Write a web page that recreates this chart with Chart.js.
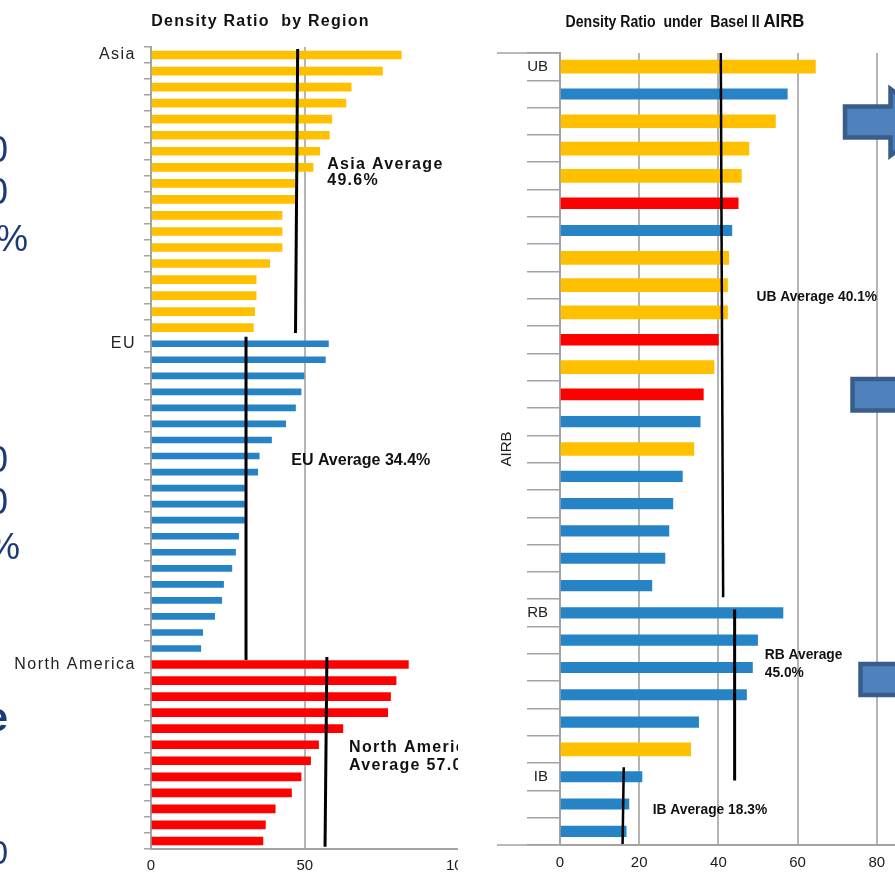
<!DOCTYPE html>
<html>
<head>
<meta charset="utf-8">
<script src="https://cdn.jsdelivr.net/npm/chart.js@4/dist/chart.umd.min.js"></script>
<style>
  html, body { margin:0; padding:0; background:#fff; }
  body { width:895px; height:880px; overflow:hidden; position:relative; font-family:'Liberation Sans', Arial, sans-serif; }
  #leftWrap { position:absolute; left:0; top:0; width:458px; height:880px; overflow:hidden; }
  #rightWrap { position:absolute; left:490px; top:0; width:405px; height:880px; overflow:hidden; }
  .ttl { position:absolute; text-align:center; white-space:pre; line-height:24px; color:#111; }
  .slide { position:absolute; color:#1B3A78; font-family:'Liberation Sans', Arial, sans-serif; line-height:1; white-space:nowrap; }
  #shapes { position:absolute; left:0; top:0; z-index:5; }
</style>
</head>
<body>
<div id="leftWrap"><canvas id="region" width="474" height="880"></canvas></div>
<div id="rightWrap"><canvas id="airb" width="480" height="880"></canvas></div>

<div class="ttl" style="left:0;width:521px;top:9px;font:bold 16px 'Liberation Sans',Arial,sans-serif;line-height:24px;letter-spacing:1.25px;">Density Ratio  by Region</div>
<div class="ttl" style="left:490px;width:390px;top:10px;font:bold 16px 'Liberation Sans',Arial,sans-serif;line-height:24px;transform:scaleX(0.88);transform-origin:195px 12px;">Density Ratio  under  Basel II <span style="font:bold 19px 'Liberation Sans',Arial,sans-serif;">AIRB</span></div>

<!-- fragments of slide text cut by the left edge -->
<div class="slide" style="right:887px;top:132px;font-size:36px;">0</div>
<div class="slide" style="right:887px;top:174px;font-size:36px;">0</div>
<div class="slide" style="right:867px;top:221px;font-size:36px;">%</div>
<div class="slide" style="right:887px;top:442px;font-size:36px;">0</div>
<div class="slide" style="right:887px;top:484px;font-size:36px;">0</div>
<div class="slide" style="right:875px;top:529px;font-size:36px;">%</div>
<div class="slide" style="right:887px;top:697px;font-size:40px;font-weight:bold;">e</div>
<div class="slide" style="right:887px;top:836px;font-size:33px;">0</div>

<svg id="shapes" width="895" height="880">
  <polygon points="845,106.5 890.5,106.5 890.5,89 935,122 890.5,155.5 890.5,137.5 845,137.5" fill="#4F81BD" stroke="#385D8A" stroke-width="4.5"/>
  <rect x="852.5" y="379" width="60" height="31.5" fill="#4F81BD" stroke="#385D8A" stroke-width="4.5"/>
  <rect x="860.5" y="664" width="60" height="31" fill="#4F81BD" stroke="#385D8A" stroke-width="4.5"/>
</svg>

<script>
// ---------------- data: Density Ratio by Region ----------------
const regionNames = ['Asia', 'EU', 'North America'];
const asiaValues = [81.4, 75.3, 65.1, 63.4, 58.8, 58.0, 54.9, 52.7, 46.7, 46.7, 42.6, 42.6, 42.6, 38.6, 34.2, 34.2, 33.7, 33.3];
const euValues = [57.7, 56.7, 49.8, 48.8, 47.0, 43.8, 39.2, 35.2, 34.7, 30.4, 30.4, 30.4, 28.5, 27.5, 26.3, 23.6, 23.0, 20.7, 16.8, 16.2];
const naValues = [83.7, 79.7, 77.9, 77.0, 62.4, 54.5, 51.9, 48.8, 45.7, 40.4, 37.2, 36.4];
const regionTicks = [0, 50, 100];
// average marker lines as drawn (top value, bottom value)
const asiaAvgLine = [47.7, 47.0];
const euAvgLine = [30.9, 30.9];
const naAvgLine = [57.2, 56.6];
const asiaAvgText = ['Asia Average', '49.6%'];
const euAvgText = ['EU Average 34.4%'];
const naAvgText = ['North America', 'Average 57.0%'];

// ---------------- data: Density Ratio under Basel II AIRB ----------------
const bankGroups = ['UB', 'RB', 'IB'];
const ubValues = [64.5, 57.4, 54.4, 47.7, 45.8, 45.0, 43.4, 42.6, 42.3, 42.3, 40.0, 38.9, 36.2, 35.4, 33.8, 30.9, 28.5, 27.5, 26.5, 23.2];
const ubRegion = ['Asia','EU','Asia','Asia','Asia','North America','EU','Asia','Asia','Asia','North America','Asia','North America','EU','Asia','EU','EU','EU','EU','EU'];
const rbValues = [56.3, 49.9, 48.6, 47.1, 35.0, 33.0];
const rbRegion = ['EU','EU','EU','EU','EU','Asia'];
const ibValues = [20.7, 17.4, 16.7];
const ibRegion = ['EU','EU','EU'];
const airbTicks = [0, 20, 40, 60, 80, 100];
const ubAvgLine = [40.6, 41.2];
const rbAvgLine = [44.1, 44.1];
const ibAvgLine = [16.1, 15.8];
const ubAvgText = ['UB Average 40.1%'];
const rbAvgText = ['RB Average', '45.0%'];
const ibAvgText = ['IB Average 18.3%'];
const airbAxisTitle = 'AIRB';

// ---------------- styling ----------------
const COLORS = { 'Asia': '#FFC000', 'EU': '#2683C6', 'North America': '#FF0000' };
const GRID = '#B5B5B5';
const AXIS = '#A3A3A3';
Chart.defaults.font.family = "'Liberation Sans', Arial, sans-serif";
Chart.defaults.color = '#1a1a1a';

function groupLabels(names, sizes) {
  const out = [];
  names.forEach((n, g) => { for (let i = 0; i < sizes[g]; i++) out.push(i === 0 ? n : ''); });
  return out;
}
function avgLine(vals, from, to, width) {
  return { type: 'line', data: [{ x: vals[0], y: from }, { x: vals[1], y: to }], xAxisID: 'x', yAxisID: 'y2',
           borderColor: '#000', borderWidth: width, pointRadius: 0, fill: false, tension: 0, order: 0, clip: false };
}
function annotator(items, font, sx) {
  return {
    id: 'annot',
    afterDatasetsDraw(chart) {
      const ctx = chart.ctx, xs = chart.scales.x, ys = chart.scales.y2;
      items.forEach(a => {
        a.lines.forEach((t, k) => {
          ctx.save();
          ctx.font = font; ctx.fillStyle = '#111'; ctx.textAlign = 'left'; ctx.textBaseline = 'middle';
          try { ctx.letterSpacing = a.spacing || '0px'; } catch (e) {}
          ctx.translate(xs.getPixelForValue(a.x), ys.getPixelForValue(a.y + k * a.step));
          ctx.scale(sx, 1);
          ctx.fillText(t, 0, 0);
          ctx.restore();
        });
      });
    }
  };
}
const hiddenLinear = (n) => ({ type: 'linear', display: false, offset: false, grid: { offset: false }, min: -0.5, max: n - 0.5, reverse: true });

// ---------------- left chart ----------------
const regionSizes = [asiaValues.length, euValues.length, naValues.length];
const regionLabels = groupLabels(regionNames, regionSizes);
const nReg = regionLabels.length;
const regionSeries = [asiaValues, euValues, naValues];
const regionThickness = [8, 6, 8];
const regionBars = regionNames.map((name, g) => {
  const start = regionSizes.slice(0, g).reduce((a, b) => a + b, 0);
  const data = regionLabels.map((_, i) => (i >= start && i < start + regionSizes[g]) ? regionSeries[g][i - start] : null);
  return { type: 'bar', label: name, data, backgroundColor: COLORS[name], barThickness: regionThickness[g],
           grouped: false, xAxisID: 'x', yAxisID: 'y', order: 1 };
});
const s1 = regionSizes[0], s2 = regionSizes[0] + regionSizes[1];

const regionChart = new Chart(document.getElementById('region'), {
  type: 'bar',
  data: {
    labels: regionLabels,
    datasets: [
      avgLine(asiaAvgLine, -0.38, s1 - 1 + 0.33, 3),
      avgLine(euAvgLine, s1 - 0.44, s2 - 1 + 0.72, 3),
      avgLine(naAvgLine, s2 - 0.47, nReg - 1 + 0.36, 3),
      ...regionBars
    ]
  },
  options: {
    indexAxis: 'y', responsive: false, animation: false,
    layout: { padding: { top: 47, bottom: 2, left: 0, right: 14 } },
    plugins: { legend: { display: false }, tooltip: { enabled: false } },
    scales: {
      x: {
        min: 0, max: 100,
        afterBuildTicks: s => { s.ticks = regionTicks.map(v => ({ value: v })); },
        grid: { color: c => (c.tick && c.tick.value === 100) ? 'rgba(0,0,0,0)' : GRID, lineWidth: 2, tickLength: 5, tickColor: 'rgba(0,0,0,0)' },
        border: { display: true, color: AXIS, width: 2 },
        ticks: { padding: 3, font: { size: 15 }, color: '#1a1a1a' }
      },
      y: {
        type: 'category', offset: true,
        grid: { offset: true, drawOnChartArea: false, tickLength: 7, color: AXIS, lineWidth: 1.5 },
        border: { display: true, color: AXIS, width: 2 },
        ticks: { autoSkip: false, padding: 8, font: { size: 16 }, color: '#222' },
        afterFit: s => { s.width = 151; }
      },
      y2: hiddenLinear(nReg)
    }
  },
  plugins: [annotator([
    { lines: asiaAvgText, x: 57.3, y: 6.83, step: 1.02, spacing: '1.3px' },
    { lines: euAvgText, x: 45.6, y: 25.31, step: 1, spacing: '0px' },
    { lines: naAvgText, x: 64.4, y: 43.2, step: 1.12, spacing: '1.3px' }
  ], "bold 16px 'Liberation Sans', Arial, sans-serif", 1)]
});
// wider spacing on the category labels, as in the picture
(function () {
  const ys = regionChart.scales.y, orig = ys.drawLabels;
  ys.drawLabels = function (area) {
    const ctx = this.ctx; ctx.save();
    try { ctx.letterSpacing = '1.5px'; } catch (e) {}
    orig.call(this, area); ctx.restore();
  };
  regionChart.draw();
})();

// ---------------- right chart ----------------
const airbValues = ubValues.concat(rbValues, ibValues);
const airbRegion = ubRegion.concat(rbRegion, ibRegion);
const airbSizes = [ubValues.length, rbValues.length, ibValues.length];
const airbLabels = groupLabels(bankGroups, airbSizes);
const nAirb = airbLabels.length;
const airbThickness = { 'Asia': 13, 'EU': 10.5, 'North America': 11 };
const airbBars = regionNames.map(name => ({
  type: 'bar', label: name,
  data: airbValues.map((v, i) => airbRegion[i] === name ? v : null),
  backgroundColor: COLORS[name], barThickness: airbThickness[name],
  grouped: false, xAxisID: 'x', yAxisID: 'y', order: 1
}));
const u = airbSizes[0], r = airbSizes[0] + airbSizes[1];

const extLines = {
  id: 'ext',
  afterDraw(chart) {
    const ctx = chart.ctx, ys = chart.scales.y;
    ctx.save(); ctx.strokeStyle = AXIS; ctx.lineWidth = 1.5;
    ctx.beginPath();
    ctx.moveTo(ys.left + 7, ys.top); ctx.lineTo(ys.right, ys.top);
    ctx.moveTo(ys.left + 7, ys.bottom); ctx.lineTo(ys.right, ys.bottom);
    ctx.stroke(); ctx.restore();
  }
};

new Chart(document.getElementById('airb'), {
  type: 'bar',
  data: {
    labels: airbLabels,
    datasets: [
      avgLine(ubAvgLine, -0.5, u - 1 + 0.43, 2.5),
      avgLine(rbAvgLine, u - 0.12, r - 1 + 1.14, 3),
      avgLine(ibAvgLine, r - 0.35, nAirb - 1 + 0.46, 2.5),
      ...airbBars
    ]
  },
  options: {
    indexAxis: 'y', responsive: false, animation: false,
    layout: { padding: { top: 53, bottom: 7, left: 0, right: 14 } },
    plugins: { legend: { display: false }, tooltip: { enabled: false } },
    scales: {
      x: {
        min: 0, max: 100,
        afterBuildTicks: s => { s.ticks = airbTicks.map(v => ({ value: v })); },
        grid: { color: GRID, lineWidth: 2, tickLength: 8, tickColor: 'rgba(0,0,0,0)' },
        border: { display: true, color: AXIS, width: 2 },
        ticks: { padding: 1, font: { size: 15 }, color: '#1a1a1a' }
      },
      y: {
        type: 'category', offset: true,
        grid: { offset: true, drawOnChartArea: false, tickLength: 33, color: AXIS, lineWidth: 1.5 },
        border: { display: true, color: AXIS, width: 2 },
        ticks: { autoSkip: false, padding: -21, font: { size: 15 }, color: '#222' },
        title: { display: true, text: airbAxisTitle, font: { size: 15 }, color: '#222', padding: { top: 8, bottom: 0 } },
        afterFit: s => { s.width = 70; }
      },
      y2: hiddenLinear(nAirb)
    }
  },
  plugins: [extLines, annotator([
    { lines: ubAvgText, x: 49.6, y: 8.44, step: 1 },
    { lines: rbAvgText, x: 51.7, y: 21.53, step: 0.66 },
    { lines: ibAvgText, x: 23.4, y: 27.2, step: 1 }
  ], "bold 15px 'Liberation Sans', Arial, sans-serif", 0.92)]
});
</script>
</body>
</html>
